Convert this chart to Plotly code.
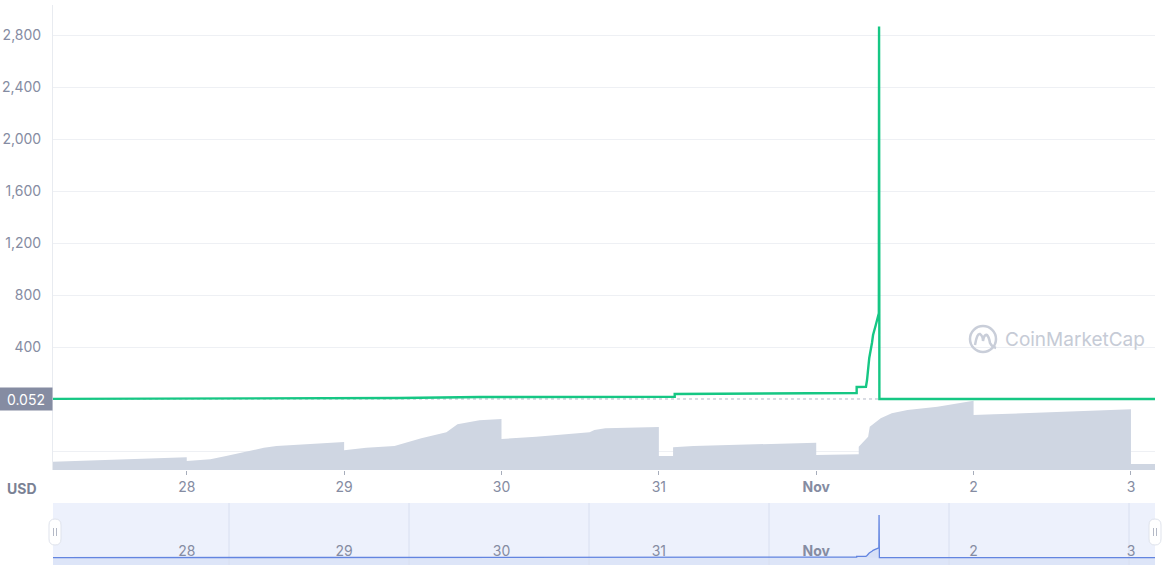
import plotly.graph_objects as go

# ---------------- data ----------------
price_time = [
    "2021-10-27 03:36", "2021-10-28 11:30", "2021-10-28 11:30", "2021-10-29 08:30",
    "2021-10-29 20:45", "2021-10-31 02:25", "2021-10-31 02:25", "2021-11-01 06:10",
    "2021-11-01 06:10", "2021-11-01 07:35", "2021-11-01 07:45", "2021-11-01 08:05",
    "2021-11-01 08:30", "2021-11-01 08:40", "2021-11-01 09:05", "2021-11-01 09:25",
    "2021-11-01 09:33", "2021-11-01 09:35", "2021-11-01 09:38", "2021-11-03 03:40",
]
price_usd = [
    0.9, 2.5, 6.5, 8.0,
    15.0, 17.0, 38.0, 46.0,
    92.0, 94.0, 146.0, 315.0,
    431.0, 492.0, 569.0, 631.0,
    660.0, 2865.0, 0.052, 0.052,
]

volume_time = [
    "2021-10-27 03:36", "2021-10-28 00:00", "2021-10-28 00:00", "2021-10-28 03:36",
    "2021-10-28 06:00", "2021-10-28 11:46", "2021-10-28 13:41", "2021-10-28 18:14",
    "2021-10-29 00:00", "2021-10-29 00:00", "2021-10-29 03:22", "2021-10-29 07:41",
    "2021-10-29 11:46", "2021-10-29 15:36", "2021-10-29 17:17", "2021-10-29 20:38",
    "2021-10-30 00:00", "2021-10-30 00:00", "2021-10-30 05:17", "2021-10-30 13:26",
    "2021-10-30 14:10", "2021-10-30 15:50", "2021-10-31 00:00", "2021-10-31 00:00",
    "2021-10-31 02:10", "2021-10-31 02:10", "2021-10-31 05:17", "2021-11-01 00:00",
    "2021-11-01 00:00", "2021-11-01 06:29", "2021-11-01 06:29", "2021-11-01 07:55",
    "2021-11-01 08:10", "2021-11-01 09:50", "2021-11-01 11:31", "2021-11-01 13:55",
    "2021-11-01 18:29", "2021-11-02 00:00", "2021-11-02 00:00", "2021-11-02 03:07",
    "2021-11-02 14:38", "2021-11-03 00:00", "2021-11-03 00:00", "2021-11-03 03:40",
]
volume_usd = [
    9070, 13880, 9840, 11700,
    15300, 24370, 26230, 28420,
    30600, 21530, 24370, 26230,
    34650, 41200, 49950, 54320,
    55740, 33880, 36400, 41200,
    43720, 45580, 47000, 15300,
    15300, 24810, 26230, 29840,
    16400, 17160, 25470, 36400,
    47330, 56500, 61970, 65580,
    69190, 75750, 60120, 60880,
    63720, 66350, 6560, 6560,
]

tick_dates = ["2021-10-28", "2021-10-29", "2021-10-30", "2021-10-31",
              "2021-11-01", "2021-11-02", "2021-11-03"]
tick_text = ["28", "29", "30", "31", "<b>Nov</b>", "2", "3"]
price_ticks = [400, 800, 1200, 1600, 2000, 2400, 2800]
volume_ticks = [20000]
current_price = 0.052
x_start, x_end = "2021-10-27 03:36", "2021-11-03 03:40"

# ---------------- geometry ----------------
W, H = 1171, 568
L, R, T, B = 53, 16, 5, 3
PW = W - L - R
PH = H - T - B


def fx(p):
    return (p - L) / PW


def fy(p):
    return (H - B - p) / PH


main_dom = [fy(470), 1.0]
nav_dom = [0.0, fy(503)]

# price axis: 0 at px 399, 400 units per 52 px
ppx = 400 / 52
price_range = [-(470 - 399) * ppx, (399 - 5) * ppx]
# volume axis: 0 at px 470, gridline 20000 at px 451.7
vpx = 20000 / 18.3
volume_range = [0, 465 * vpx]
# navigator axis: 0 at px 557.7, 2865 at px 515
npx = 2865 / 42.7
nav_range = [-(565 - 557.7) * npx, (557.7 - 503) * npx]

GREY = "#858ca2"
GRID = "#eef0f4"
FONT = "Inter"

fig = go.Figure()
fig.add_trace(go.Scatter(
    x=volume_time, y=volume_usd, xaxis="x", yaxis="y", mode="lines",
    line=dict(width=0, color="#cfd6e2"), fill="tozeroy", fillcolor="#cfd6e2",
    hoverinfo="skip"))
fig.add_trace(go.Scatter(
    x=price_time, y=price_usd, xaxis="x", yaxis="y2", mode="lines",
    line=dict(color="#16c784", width=2.4)))
fig.add_trace(go.Scatter(
    x=price_time, y=price_usd, xaxis="x2", yaxis="y3", mode="lines",
    line=dict(color="#6385e0", width=1.3), fill="tozeroy",
    fillcolor="rgba(99,133,224,0.15)"))

shapes = []
# navigator background and bottom strip
shapes.append(dict(type="rect", xref="x2 domain", yref="y3 domain", x0=0, x1=1, y0=0, y1=1,
                   fillcolor="#edf1fc", line=dict(width=0), layer="below"))
shapes.append(dict(type="rect", xref="x2 domain", yref="y3 domain", x0=0, x1=1, y0=0,
                   y1=(565 - 557.7) / 62, fillcolor="#dde5f8", line=dict(width=0), layer="below"))
for gx in (229, 409, 589, 769, 949, 1129):
    shapes.append(dict(type="line", xref="paper", yref="y3 domain", x0=fx(gx), x1=fx(gx),
                       y0=0, y1=1, line=dict(color="#d8dff0", width=1), layer="below"))
# current price dotted line
shapes.append(dict(type="line", xref="x domain", yref="y2", x0=0, x1=1,
                   y0=current_price, y1=current_price,
                   line=dict(color="#b3b9c7", width=1, dash="dot"), layer="below"))
# navigator handles
handle = "M -6,-7 L -6,7 Q -6,13 0,13 Q 6,13 6,7 L 6,-7 Q 6,-13 0,-13 Q -6,-13 -6,-7 Z"
grip = "M -1.5,-4 L -1.5,4 M 1.5,-4 L 1.5,4"
for hx in (55, 1155):
    shapes.append(dict(type="path", xref="paper", yref="paper", xsizemode="pixel",
                       ysizemode="pixel", xanchor=fx(hx), yanchor=fy(532), path=handle,
                       fillcolor="white", line=dict(color="#dfe3ec", width=1)))
    shapes.append(dict(type="path", xref="paper", yref="paper", xsizemode="pixel",
                       ysizemode="pixel", xanchor=fx(hx), yanchor=fy(532), path=grip,
                       line=dict(color="#b4b9c6", width=1)))
# watermark logo
shapes.append(dict(type="circle", xref="paper", yref="paper", xsizemode="pixel",
                   ysizemode="pixel", xanchor=fx(983), yanchor=fy(339),
                   x0=-13, x1=13, y0=-13, y1=13, line=dict(color="#c9ced9", width=2.5)))
shapes.append(dict(type="path", xref="paper", yref="paper", xsizemode="pixel",
                   ysizemode="pixel", xanchor=fx(983), yanchor=fy(339),
                   path="M -8,-6 Q -6,6 -3,5 Q 0,3 0,-2 Q 1,5 4,4 Q 6,2 7,-4 Q 9,-8 13,-9",
                   line=dict(color="#c9ced9", width=2.5)))

annotations = [
    dict(xref="paper", yref="y2", x=0, y=current_price, xanchor="right", yanchor="middle",
         text="0.052", showarrow=False, bgcolor="#858ca2", width=48, height=18, borderpad=2,
         font=dict(family=FONT, size=14, color="white"), align="center"),
    dict(xref="paper", yref="paper", x=fx(22), y=fy(488), xanchor="center", yanchor="middle",
         text="<b>USD</b>", showarrow=False, font=dict(family=FONT, size=14, color="#7a8194")),
    dict(xref="paper", yref="paper", x=fx(1075), y=fy(339), xanchor="center", yanchor="middle",
         text="CoinMarketCap", showarrow=False, font=dict(family=FONT, size=19, color="#c6cbd6")),
]

fig.update_layout(
    width=W, height=H, margin=dict(l=L, r=R, t=T, b=B, pad=0),
    paper_bgcolor="white", plot_bgcolor="white", showlegend=False,
    font=dict(family=FONT, size=14, color=GREY),
    xaxis=dict(domain=[0, 1], anchor="y", type="date", range=[x_start, x_end],
               tickvals=tick_dates, ticktext=tick_text, ticks="outside", ticklen=4,
               tickcolor="#a7adbb", showgrid=False, showline=False, zeroline=False,
               tickfont=dict(family=FONT, size=14, color=GREY)),
    yaxis=dict(domain=main_dom, anchor="x", range=volume_range, tickvals=volume_ticks,
               showticklabels=False, showgrid=True, gridcolor=GRID, zeroline=False,
               showline=False),
    yaxis2=dict(overlaying="y", side="left", anchor="x", range=price_range,
                tickvals=price_ticks, tickformat=",", showgrid=True, gridcolor=GRID,
                zeroline=False, showline=True, linecolor="#e8ebf0", linewidth=1,
                ticks="", ticklabelstandoff=8,
                tickfont=dict(family=FONT, size=14, color=GREY)),
    xaxis2=dict(domain=[0, 1], anchor="y3", type="date", range=[x_start, x_end],
                tickvals=tick_dates, ticktext=tick_text, ticks="", showgrid=False,
                showline=False, zeroline=False, ticklabelposition="inside",
                ticklabelstandoff=3,
                tickfont=dict(family=FONT, size=14, color=GREY)),
    yaxis3=dict(domain=nav_dom, anchor="x2", range=nav_range, visible=False),
    shapes=shapes, annotations=annotations,
)

fig.write_html("out.html", config={"displayModeBar": False},
               post_script="document.body.style.margin='0';document.body.style.overflow='hidden';")
